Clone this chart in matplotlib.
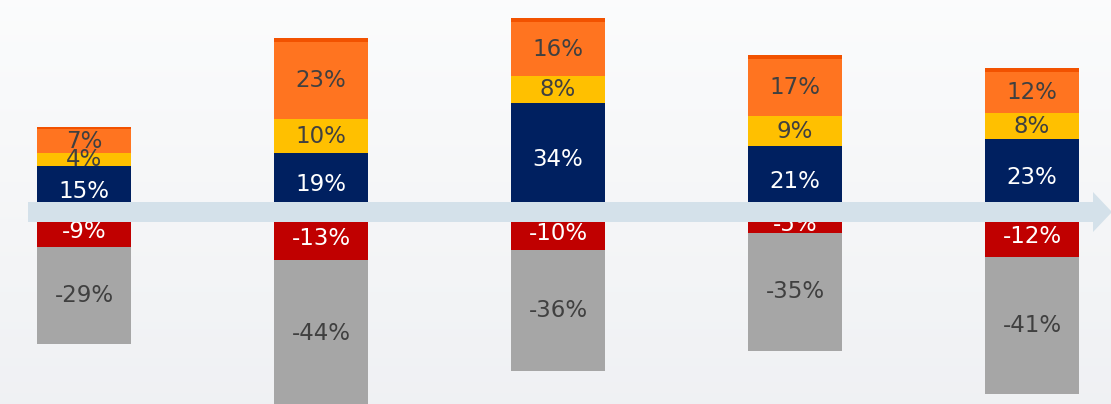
import numpy as np
import matplotlib.pyplot as plt
from matplotlib.patches import Polygon

# shares per period (percent)
periods = ['P1', 'P2', 'P3', 'P4', 'P5']
navy_vals = [15, 19, 34, 21, 23]
yellow_vals = [4, 10, 8, 9, 8]
orange_vals = [7, 23, 16, 17, 12]
cap_vals = [0.7, 1.2, 1.2, 1.2, 1.2]
red_vals = [-9, -13, -10, -5, -12]
gray_vals = [-29, -44, -36, -35, -41]

c_navy = '#002060'
c_yellow = '#FFC000'
c_orange = '#FF7420'
c_cap = '#F25200'
c_red = '#C00000'
c_gray = '#A6A6A6'
c_dark = '#404040'

plt.rcParams['font.family'] = ['DejaVu Sans']

fig = plt.figure(figsize=(11.11, 4.04), dpi=100)
ax = fig.add_axes([0, 0, 1, 1])

px = 237.0  # pixels per category step
xl = (-84 / px, (1111 - 84) / px)
sc = 3.35  # pixels per percent
yl = (-(404 - 216.5) / sc, 216.5 / sc)
ax.set_xlim(xl)
ax.set_ylim(yl)
ax.axis('off')

# soft background gradient
grad = np.linspace(0, 1, 256).reshape(-1, 1)
top = np.array([0.985, 0.988, 0.99])
bot = np.array([0.94, 0.945, 0.955])
img = top + (bot - top) * grad[..., None]
ax.imshow(img, extent=[xl[0], xl[1], yl[0], yl[1]], aspect='auto', zorder=0)

x = np.arange(len(periods))
w = 0.4
navy = np.array(navy_vals)
yellow = np.array(yellow_vals)
orange = np.array(orange_vals)
red = np.array(red_vals)
gray = np.array(gray_vals)

ax.bar(x, navy, w, color=c_navy, zorder=2)
ax.bar(x, yellow, w, bottom=navy, color=c_yellow, zorder=2)
ax.bar(x, orange, w, bottom=navy + yellow, color=c_orange, zorder=2)
ax.bar(x, cap_vals, w, bottom=navy + yellow + orange, color=c_cap, zorder=2)
ax.bar(x, red, w, color=c_red, zorder=2)
ax.bar(x, gray, w, bottom=red, color=c_gray, zorder=2)

fs = 16.5
for i in x:
    ax.text(i, navy[i] / 2, f'{navy[i]}%', ha='center', va='center',
            color='white', fontsize=fs, zorder=3)
    ax.text(i, navy[i] + yellow[i] / 2, f'{yellow[i]}%', ha='center',
            va='center', color=c_dark, fontsize=fs, zorder=3)
    ax.text(i, navy[i] + yellow[i] + orange[i] / 2, f'{orange[i]}%',
            ha='center', va='center', color=c_dark, fontsize=fs, zorder=3)
    ax.text(i, red[i] / 2, f'{red[i]}%', ha='center', va='center',
            color='white', fontsize=fs, zorder=3)
    ax.text(i, red[i] + gray[i] / 2, f'{gray[i]}%', ha='center',
            va='center', color=c_dark, fontsize=fs, zorder=3)

# timeline arrow across the zero line
def to_x(p):
    return xl[0] + p / px

def to_y(p):
    return (216.5 - p) / sc

arrow = Polygon([(to_x(28), to_y(202)), (to_x(1093), to_y(202)),
                 (to_x(1093), to_y(192)), (to_x(1112), to_y(212)),
                 (to_x(1093), to_y(232)), (to_x(1093), to_y(222)),
                 (to_x(28), to_y(222))],
                closed=True, facecolor='#D4E1EA', edgecolor='none', zorder=4)
ax.add_patch(arrow)

fig.savefig('out.png', dpi=100)
